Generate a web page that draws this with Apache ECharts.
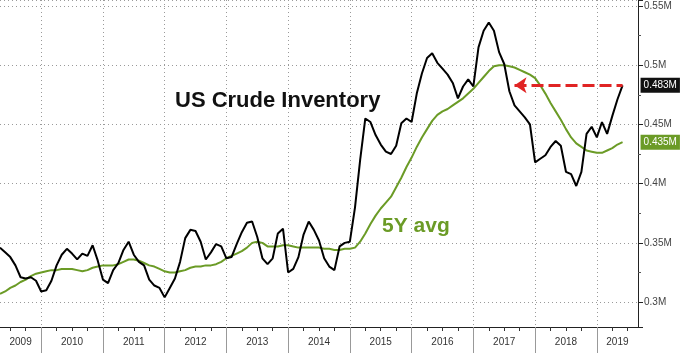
<!DOCTYPE html>
<html>
<head>
<meta charset="utf-8">
<script src="https://cdn.jsdelivr.net/npm/echarts@6/dist/echarts.min.js"></script>
<style>
    html, body { margin: 0; padding: 0; background: #fff; }
    #chart { width: 680px; height: 353px; }
</style>
</head>
<body>
<div id="chart"></div>
<script>
// month categories, May 2009 .. Sep 2019
const months = []
for (let i = 0; i < 125; i++) {
    const t = 2009 * 12 + 4 + i
    const y = Math.floor(t / 12), m = t % 12 + 1
    months.push(y + '-' + (m < 10 ? '0' + m : m))
}

// US crude inventory (M barrels, shown as "M"), monthly read-off
const inventory = [
    0.346, 0.342, 0.338, 0.331, 0.321, 0.320, 0.321, 0.318, 0.309, 0.310,
    0.318, 0.331, 0.340, 0.345, 0.341, 0.336, 0.341, 0.339, 0.348, 0.335,
    0.319, 0.316, 0.327, 0.333, 0.344, 0.351, 0.340, 0.334, 0.331, 0.319,
    0.314, 0.312, 0.304, 0.312, 0.320, 0.334, 0.354, 0.361, 0.360, 0.351,
    0.336, 0.342, 0.349, 0.347, 0.337, 0.338, 0.349, 0.359, 0.367, 0.368,
    0.355, 0.337, 0.332, 0.337, 0.358, 0.362, 0.325, 0.328, 0.338, 0.357,
    0.368, 0.361, 0.352, 0.337, 0.330, 0.327, 0.347, 0.350, 0.351, 0.380,
    0.420, 0.455, 0.452, 0.441, 0.433, 0.427, 0.425, 0.432, 0.451, 0.455,
    0.452, 0.476, 0.493, 0.506, 0.510, 0.502, 0.497, 0.492, 0.485, 0.472,
    0.482, 0.488, 0.482, 0.515, 0.529, 0.536, 0.529, 0.511, 0.501, 0.478,
    0.466, 0.461, 0.456, 0.450, 0.418, 0.421, 0.424, 0.431, 0.436, 0.432,
    0.410, 0.408, 0.398, 0.410, 0.442, 0.448, 0.439, 0.452, 0.442, 0.457,
    0.471, 0.483
]

// 5 year average
const avg5y = [
    0.307, 0.309, 0.312, 0.314, 0.317, 0.319, 0.322, 0.324, 0.325, 0.326,
    0.327, 0.327, 0.328, 0.328, 0.328, 0.327, 0.326, 0.327, 0.329, 0.330,
    0.331, 0.331, 0.331, 0.332, 0.334, 0.336, 0.336, 0.335, 0.333, 0.331,
    0.330, 0.328, 0.326, 0.325, 0.325, 0.326, 0.327, 0.329, 0.330, 0.330,
    0.331, 0.331, 0.332, 0.334, 0.337, 0.339, 0.341, 0.343, 0.346, 0.350,
    0.351, 0.350, 0.347, 0.347, 0.347, 0.348, 0.348, 0.347, 0.346, 0.346,
    0.346, 0.346, 0.346, 0.345, 0.345, 0.344, 0.344, 0.345, 0.345, 0.346,
    0.351, 0.358, 0.366, 0.373, 0.379, 0.384, 0.389, 0.397, 0.405, 0.414,
    0.422, 0.431, 0.439, 0.446, 0.453, 0.458, 0.461, 0.463, 0.466, 0.469,
    0.472, 0.476, 0.480, 0.485, 0.490, 0.495, 0.499, 0.500, 0.500, 0.499,
    0.498, 0.496, 0.494, 0.492, 0.489, 0.483, 0.476, 0.468, 0.461, 0.454,
    0.446, 0.439, 0.434, 0.431, 0.428, 0.427, 0.426, 0.426, 0.428, 0.430,
    0.433, 0.435
]

// red arrow starts here and runs to the latest reading
const arrowFrom = '2017-09'

// year label sits in the middle of each year's visible span
const labelIdx = {}
let first = 0
for (let i = 1; i <= months.length; i++) {
    if (i === months.length || months[i].slice(5) === '01') {
        const end = i === months.length ? i - 1 : i
        labelIdx[Math.round((first + end) / 2)] = months[first].slice(0, 4)
        first = i
    }
}
const isJan = (i) => months[i].slice(5) === '01'
const isQuarter = (i) => ['01', '04', '07', '10'].includes(months[i].slice(5))

const font = 'Liberation Sans, Arial, sans-serif'
const dotted = { color: '#9a9a9a', type: [1, 3], width: 1 }
const lastVal = inventory[inventory.length - 1]

let option = {
    animation: false,
    textStyle: { fontFamily: font },
    grid: { left: -3, right: 42, top: 0, bottom: 26 },
    xAxis: [{
        type: 'category',
        data: months,
        boundaryGap: false,
        position: 'bottom',
        axisLine: { lineStyle: { color: '#222', width: 1 } },
        axisTick: { interval: (i) => isQuarter(i), length: 4, lineStyle: { color: '#333' } },
        axisLabel: {
            interval: (i) => labelIdx[i] !== undefined,
            formatter: (v, i) => labelIdx[i] || '',
            color: '#333', fontSize: 10, margin: 10
        },
        splitLine: { show: true, interval: (i) => isJan(i), lineStyle: dotted }
    }, {
        type: 'category',
        data: months,
        boundaryGap: false,
        position: 'bottom',
        axisLine: { show: false },
        axisTick: { interval: (i) => isJan(i), length: 26, lineStyle: { color: '#999' } },
        axisLabel: { show: false },
        splitLine: { show: false }
    }],
    yAxis: {
        type: 'value',
        position: 'right',
        min: 0.279,
        max: 0.555,
        splitNumber: 5,
        axisLine: { show: true, lineStyle: { color: '#222' } },
        axisTick: { show: true, length: 5, lineStyle: { color: '#222' } },
        minorTick: { show: true, splitNumber: 2, length: 3, lineStyle: { color: '#555' } },
        axisLabel: {
            showMinLabel: false,
            showMaxLabel: false,
            formatter: (v) => +v.toFixed(3) + 'M',
            color: '#444', fontSize: 10, margin: 6
        },
        splitLine: { show: true, lineStyle: dotted }
    },
    graphic: [{
        type: 'text', left: 175, top: 90,
        style: { text: 'US Crude Inventory', font: 'bold 22px ' + font, fill: '#111' }
    }, {
        type: 'text', left: 382, top: 216,
        style: { text: '5Y avg', font: 'bold 21px ' + font, fill: '#6b9b26' }
    }],
    series: [{
        name: '5Y avg',
        type: 'line',
        data: avg5y,
        showSymbol: false,
        lineStyle: { color: '#6b9b26', width: 2 },
        z: 2,
        endLabel: {
            show: true,
            distance: 18,
            formatter: (p) => p.value.toFixed(3) + 'M',
            backgroundColor: '#6b9b26', color: '#fff',
            fontSize: 10, padding: [3, 3, 2, 3]
        }
    }, {
        name: 'US Crude Inventory',
        type: 'line',
        data: inventory,
        showSymbol: false,
        lineStyle: { color: '#000', width: 2 },
        z: 3,
        endLabel: {
            show: true,
            distance: 18,
            formatter: (p) => p.value.toFixed(3) + 'M',
            backgroundColor: '#111', color: '#fff',
            fontSize: 10, padding: [3, 3, 2, 3]
        },
        markLine: {
            silent: true,
            symbol: ['arrow', 'none'],
            symbolSize: [12, 12],
            label: { show: false },
            lineStyle: { color: '#e02424', type: [12, 5], width: 3 },
            data: [[
                { xAxis: arrowFrom, yAxis: lastVal },
                { xAxis: inventory.length - 1, yAxis: lastVal }
            ]]
        }
    }]
}

var myChart = echarts.init(document.getElementById('chart'))
myChart.setOption(option)
</script>
</body>
</html>
